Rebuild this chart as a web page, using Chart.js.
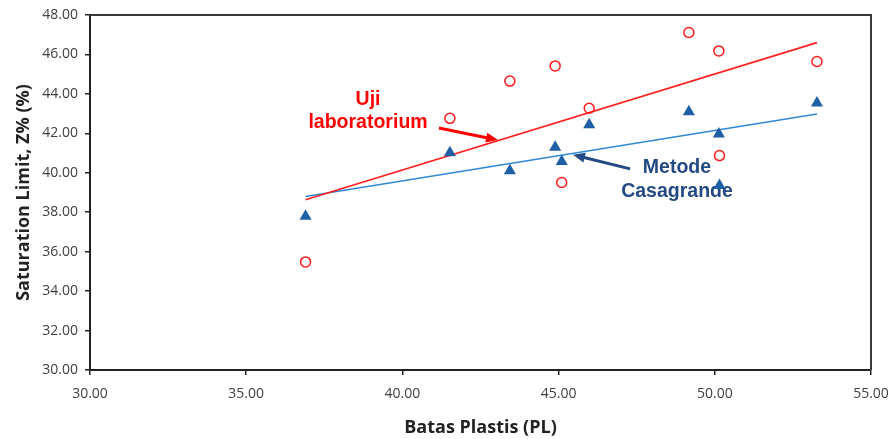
<!DOCTYPE html>
<html lang="en">
<head>
    <meta charset="UTF-8">
    <title>Saturation Limit vs Batas Plastis</title>
    <script src="https://cdn.jsdelivr.net/npm/chart.js"></script>
    <style>
        html, body {
            margin: 0;
            padding: 0;
            background: #ffffff;
        }
        .wrap {
            width: 892px;
            height: 439px;
        }
    </style>
</head>
<body>
    <div class="wrap">
        <canvas id="satChart" width="892" height="439"></canvas>
    </div>

    <script>
        // Batas Plastis (PL) for each sample
        const plasticLimit = [36.90, 41.52, 43.44, 44.89, 45.10, 45.98, 49.17, 50.13, 50.15, 53.27];
        // Uji laboratorium (red circles)
        const labValues = [35.48, 42.76, 44.65, 45.42, 39.51, 43.27, 47.11, 46.18, 40.87, 45.64];
        // Metode Casagrande (blue triangles)
        const casaPL = [36.90, 41.52, 43.44, 44.89, 45.10, 45.98, 49.17, 50.13, 50.15, 53.27];
        const casaValues = [37.79, 41.02, 40.10, 41.30, 40.57, 42.44, 43.10, 41.97, 39.35, 43.54];

        // trend line end points
        const labTrendX = [36.90, 53.27];
        const labTrendY = [38.63, 46.60];
        const casaTrendX = [36.90, 53.27];
        const casaTrendY = [38.80, 42.98];

        const xTicks = [30, 35, 40, 45, 50, 55];
        const yTicks = [30, 32, 34, 36, 38, 40, 42, 44, 46, 48];

        // callout labels (data units)
        const labLabel = { lines: ['Uji', 'laboratorium'], x: 38.90, y: [43.69, 42.52] };
        const labArrow = { from: [41.17, 42.27], to: [43.06, 41.66] };
        const casaLabel = { lines: ['Metode', 'Casagrande'], x: 48.79, y: [40.24, 39.03] };
        const casaArrow = { from: [47.29, 40.20], to: [45.46, 40.91] };

        const toPoints = (xs, ys) => xs.map((x, i) => ({ x: x, y: ys[i] }));

        function drawArrow(ctx, x1, y1, x2, y2, color) {
            const ang = Math.atan2(y2 - y1, x2 - x1);
            const head = 13;
            ctx.save();
            ctx.strokeStyle = color;
            ctx.fillStyle = color;
            ctx.lineWidth = 3;
            ctx.beginPath();
            ctx.moveTo(x1, y1);
            ctx.lineTo(x2 - Math.cos(ang) * head * 0.8, y2 - Math.sin(ang) * head * 0.8);
            ctx.stroke();
            ctx.beginPath();
            ctx.moveTo(x2, y2);
            ctx.lineTo(x2 - head * Math.cos(ang - 0.4), y2 - head * Math.sin(ang - 0.4));
            ctx.lineTo(x2 - head * Math.cos(ang + 0.4), y2 - head * Math.sin(ang + 0.4));
            ctx.closePath();
            ctx.fill();
            ctx.restore();
        }

        const calloutPlugin = {
            id: 'callouts',
            beforeDatasetsDraw(chart) {
                const ctx = chart.ctx;
                const xs = chart.scales.x;
                const ys = chart.scales.y;
                ctx.save();
                ctx.font = 'bold 19.5px "Liberation Sans", Arial, sans-serif';
                ctx.textAlign = 'center';
                ctx.textBaseline = 'middle';

                ctx.fillStyle = '#ff0000';
                labLabel.lines.forEach((t, i) => {
                    ctx.fillText(t, xs.getPixelForValue(labLabel.x), ys.getPixelForValue(labLabel.y[i]));
                });
                drawArrow(ctx,
                    xs.getPixelForValue(labArrow.from[0]), ys.getPixelForValue(labArrow.from[1]),
                    xs.getPixelForValue(labArrow.to[0]), ys.getPixelForValue(labArrow.to[1]), '#ff0000');

                ctx.fillStyle = '#234a82';
                casaLabel.lines.forEach((t, i) => {
                    ctx.fillText(t, xs.getPixelForValue(casaLabel.x), ys.getPixelForValue(casaLabel.y[i]));
                });
                drawArrow(ctx,
                    xs.getPixelForValue(casaArrow.from[0]), ys.getPixelForValue(casaArrow.from[1]),
                    xs.getPixelForValue(casaArrow.to[0]), ys.getPixelForValue(casaArrow.to[1]), '#234a82');
                ctx.restore();
            },
            afterDraw(chart) {
                // frame on top and right like the excel plot area
                const a = chart.chartArea;
                const ctx = chart.ctx;
                ctx.save();
                ctx.strokeStyle = '#3a3a3a';
                ctx.lineWidth = 2;
                ctx.beginPath();
                ctx.moveTo(a.left, a.top);
                ctx.lineTo(a.right, a.top);
                ctx.lineTo(a.right, a.bottom);
                ctx.stroke();
                ctx.restore();
            }
        };

        const tickFont = { family: '"Open Sans", "Liberation Sans", sans-serif', size: 14 };
        const titleFont = { family: '"Open Sans", "Liberation Sans", sans-serif', size: 18, weight: 'bold' };

        new Chart(document.getElementById('satChart').getContext('2d'), {
            type: 'scatter',
            data: {
                datasets: [
                    {
                        label: 'Uji laboratorium',
                        data: toPoints(plasticLimit, labValues),
                        pointStyle: 'circle',
                        pointRadius: 5,
                        pointBorderWidth: 1.5,
                        borderColor: '#ff1a1a',
                        backgroundColor: 'rgba(255,255,255,0)',
                        order: 1
                    },
                    {
                        label: 'Metode Casagrande',
                        data: toPoints(casaPL, casaValues),
                        pointStyle: 'triangle',
                        pointRadius: 7,
                        pointBorderWidth: 0,
                        borderColor: '#1f5fa6',
                        backgroundColor: '#1f5fa6',
                        order: 1
                    },
                    {
                        label: 'Trend lab',
                        type: 'line',
                        data: toPoints(labTrendX, labTrendY),
                        borderColor: '#ff2020',
                        borderWidth: 1.6,
                        pointRadius: 0,
                        fill: false,
                        order: 2
                    },
                    {
                        label: 'Trend casagrande',
                        type: 'line',
                        data: toPoints(casaTrendX, casaTrendY),
                        borderColor: '#2f89d6',
                        borderWidth: 1.6,
                        pointRadius: 0,
                        fill: false,
                        order: 2
                    }
                ]
            },
            options: {
                responsive: false,
                animation: false,
                layout: {
                    padding: { top: 15, right: 21, left: 0, bottom: 0 }
                },
                plugins: {
                    legend: { display: false },
                    tooltip: { enabled: false }
                },
                scales: {
                    x: {
                        type: 'linear',
                        min: 30,
                        max: 55,
                        afterBuildTicks: scale => { scale.ticks = xTicks.map(v => ({ value: v })); },
                        afterFit: scale => {
                            scale.height = 69;
                            scale.paddingLeft = 0;
                            scale.paddingRight = 0;
                        },
                        ticks: {
                            callback: v => v.toFixed(2),
                            color: '#404040',
                            font: tickFont,
                            padding: 11,
                            maxRotation: 0
                        },
                        grid: {
                            drawOnChartArea: false,
                            drawTicks: true,
                            tickLength: 5,
                            color: '#222222',
                            lineWidth: 1.5
                        },
                        border: { color: '#222222', width: 2 },
                        title: {
                            display: true,
                            text: 'Batas Plastis (PL)',
                            color: '#222222',
                            font: titleFont,
                            padding: { top: 12, bottom: 0 }
                        }
                    },
                    y: {
                        type: 'linear',
                        min: 30,
                        max: 48,
                        afterBuildTicks: scale => { scale.ticks = yTicks.map(v => ({ value: v })); },
                        afterFit: scale => {
                            scale.width = 90;
                            scale.paddingTop = 0;
                            scale.paddingBottom = 0;
                        },
                        ticks: {
                            callback: v => v.toFixed(2),
                            color: '#404040',
                            font: tickFont,
                            padding: 7
                        },
                        grid: {
                            drawOnChartArea: false,
                            drawTicks: true,
                            tickLength: 5,
                            color: '#222222',
                            lineWidth: 1.5
                        },
                        border: { color: '#222222', width: 2 },
                        title: {
                            display: true,
                            text: 'Saturation Limit, Z% (%)',
                            color: '#222222',
                            font: titleFont,
                            padding: { top: 13, bottom: 2 }
                        }
                    }
                }
            },
            plugins: [calloutPlugin]
        });
    </script>
</body>
</html>
